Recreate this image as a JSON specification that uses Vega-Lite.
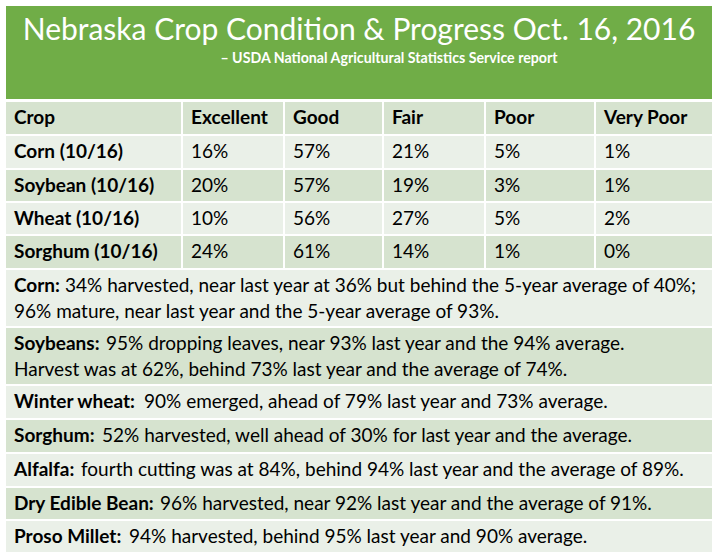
{
  "$schema": "https://vega.github.io/schema/vega-lite/v6.json",
  "width": 720,
  "height": 558,
  "autosize": {"type": "fit", "contains": "padding"},
  "padding": 0,
  "background": "white",
  "view": {"stroke": null},
  "config": {"text": {"font": "Lato", "fontSize": 19, "color": "#000000"}},
  "datasets": {
    "bands": [
      {"from": -2, "to": -1, "shade": "title"},
      {"from": 0, "to": 1, "shade": "dark"},
      {"from": 1, "to": 2, "shade": "light"},
      {"from": 2, "to": 3, "shade": "dark"},
      {"from": 3, "to": 4, "shade": "light"},
      {"from": 4, "to": 5, "shade": "dark"},
      {"from": 5, "to": 6, "shade": "light"},
      {"from": 6, "to": 7, "shade": "dark"},
      {"from": 7, "to": 8, "shade": "light"},
      {"from": 8, "to": 9, "shade": "dark"},
      {"from": 9, "to": 10, "shade": "light"},
      {"from": 10, "to": 11, "shade": "dark"},
      {"from": 11, "to": 12, "shade": "light"}
    ],
    "separators": [{"col": 1}, {"col": 2}, {"col": 3}, {"col": 4}, {"col": 5}],
    "titles": [
      {"kind": "main", "text": "Nebraska Crop Condition & Progress Oct. 16, 2016"},
      {"kind": "sub", "text": "– USDA National Agricultural Statistics Service report"}
    ],
    "headers": [
      {"row": 0, "col": 0, "text": "Crop"},
      {"row": 0, "col": 1, "text": "Excellent"},
      {"row": 0, "col": 2, "text": "Good"},
      {"row": 0, "col": 3, "text": "Fair"},
      {"row": 0, "col": 4, "text": "Poor"},
      {"row": 0, "col": 5, "text": "Very Poor"},
      {"row": 1, "col": 0, "text": "Corn (10/16)"},
      {"row": 2, "col": 0, "text": "Soybean (10/16)"},
      {"row": 3, "col": 0, "text": "Wheat (10/16)"},
      {"row": 4, "col": 0, "text": "Sorghum (10/16)"}
    ],
    "conditions": [
      {"crop": "Corn (10/16)", "row": 1, "condition": "Excellent", "col": 1, "share": 0.16},
      {"crop": "Corn (10/16)", "row": 1, "condition": "Good", "col": 2, "share": 0.57},
      {"crop": "Corn (10/16)", "row": 1, "condition": "Fair", "col": 3, "share": 0.21},
      {"crop": "Corn (10/16)", "row": 1, "condition": "Poor", "col": 4, "share": 0.05},
      {"crop": "Corn (10/16)", "row": 1, "condition": "Very Poor", "col": 5, "share": 0.01},
      {"crop": "Soybean (10/16)", "row": 2, "condition": "Excellent", "col": 1, "share": 0.20},
      {"crop": "Soybean (10/16)", "row": 2, "condition": "Good", "col": 2, "share": 0.57},
      {"crop": "Soybean (10/16)", "row": 2, "condition": "Fair", "col": 3, "share": 0.19},
      {"crop": "Soybean (10/16)", "row": 2, "condition": "Poor", "col": 4, "share": 0.03},
      {"crop": "Soybean (10/16)", "row": 2, "condition": "Very Poor", "col": 5, "share": 0.01},
      {"crop": "Wheat (10/16)", "row": 3, "condition": "Excellent", "col": 1, "share": 0.10},
      {"crop": "Wheat (10/16)", "row": 3, "condition": "Good", "col": 2, "share": 0.56},
      {"crop": "Wheat (10/16)", "row": 3, "condition": "Fair", "col": 3, "share": 0.27},
      {"crop": "Wheat (10/16)", "row": 3, "condition": "Poor", "col": 4, "share": 0.05},
      {"crop": "Wheat (10/16)", "row": 3, "condition": "Very Poor", "col": 5, "share": 0.02},
      {"crop": "Sorghum (10/16)", "row": 4, "condition": "Excellent", "col": 1, "share": 0.24},
      {"crop": "Sorghum (10/16)", "row": 4, "condition": "Good", "col": 2, "share": 0.61},
      {"crop": "Sorghum (10/16)", "row": 4, "condition": "Fair", "col": 3, "share": 0.14},
      {"crop": "Sorghum (10/16)", "row": 4, "condition": "Poor", "col": 4, "share": 0.01},
      {"crop": "Sorghum (10/16)", "row": 4, "condition": "Very Poor", "col": 5, "share": 0.00}
    ],
    "notes": [
      {"row": 5, "label": "Corn:", "text": "34% harvested, near last year at 36% but behind the 5-year average of 40%;", "text2": "96% mature, near last year and the 5-year average of 93%."},
      {"row": 6, "label": "Soybeans:", "text": "95% dropping leaves, near 93% last year and the 94% average.", "text2": "Harvest was at 62%, behind 73% last year and the average of 74%."},
      {"row": 7, "label": "Winter wheat:", "text": "90% emerged, ahead of 79% last year and 73% average.", "text2": ""},
      {"row": 8, "label": "Sorghum:", "text": "52% harvested, well ahead of 30% for last year and the average.", "text2": ""},
      {"row": 9, "label": "Alfalfa:", "text": "fourth cutting was at 84%, behind 94% last year and the average of 89%.", "text2": ""},
      {"row": 10, "label": "Dry Edible Bean:", "text": "96% harvested, near 92% last year and the average of 91%.", "text2": ""},
      {"row": 11, "label": "Proso Millet:", "text": "94% harvested, behind 95% last year and 90% average.", "text2": ""}
    ]
  },
  "encoding": {},
  "layer": [
    {
      "data": {"name": "bands"},
      "mark": {"type": "rect", "stroke": "white", "strokeWidth": 2},
      "encoding": {
        "x": {"datum": 0, "type": "quantitative", "axis": null,
              "scale": {"domain": [0, 1, 2, 3, 4, 5, 6], "range": [5, 182, 284, 383, 485, 595, 713], "zero": false, "nice": false}},
        "x2": {"datum": 6},
        "y": {"field": "from", "type": "quantitative", "axis": null,
              "scale": {"domain": [-2, -1, 0, 1, 2, 3, 4, 5, 6, 7, 8, 9, 10, 11, 12], "range": [5, 100, 101, 135, 169, 202, 235, 269, 327, 385, 419, 453, 487, 520, 553], "zero": false, "nice": false}},
        "y2": {"field": "to"},
        "color": {"field": "shade", "type": "nominal", "legend": null,
                  "scale": {"domain": ["title", "dark", "light"], "range": ["#70AD47", "#D6E3CF", "#EAF0E8"]}}
      }
    },
    {
      "data": {"name": "separators"},
      "mark": {"type": "rule", "stroke": "white", "strokeWidth": 2},
      "encoding": {
        "x": {"field": "col", "type": "quantitative"},
        "y": {"datum": 0},
        "y2": {"datum": 5}
      }
    },
    {
      "data": {"name": "titles"},
      "transform": [{"filter": "datum.kind === 'main'"}],
      "mark": {"type": "text", "color": "white", "fontSize": 30, "align": "center", "baseline": "middle", "dx": -24, "dy": 26},
      "encoding": {"x": {"datum": 3}, "y": {"datum": -2}, "text": {"field": "text"}}
    },
    {
      "data": {"name": "titles"},
      "transform": [{"filter": "datum.kind === 'sub'"}],
      "mark": {"type": "text", "color": "white", "fontSize": 14.2, "fontWeight": "bold", "align": "center", "baseline": "middle", "dx": 6, "dy": 54},
      "encoding": {"x": {"datum": 3}, "y": {"datum": -2}, "text": {"field": "text"}}
    },
    {
      "data": {"name": "headers"},
      "mark": {"type": "text", "fontWeight": "bold", "align": "left", "baseline": "middle", "dx": 9, "dy": 17},
      "encoding": {"x": {"field": "col", "type": "quantitative"}, "y": {"field": "row", "type": "quantitative"}, "text": {"field": "text"}}
    },
    {
      "data": {"name": "conditions"},
      "mark": {"type": "text", "align": "left", "baseline": "middle", "dx": 9, "dy": 17},
      "encoding": {"x": {"field": "col", "type": "quantitative"}, "y": {"field": "row", "type": "quantitative"}, "text": {"field": "share", "type": "quantitative", "format": ".0%"}}
    },
    {
      "data": {"name": "notes"},
      "mark": {"type": "text", "fontWeight": "bold", "align": "left", "baseline": "middle", "dx": 9, "dy": 17},
      "encoding": {"x": {"datum": 0}, "y": {"field": "row", "type": "quantitative"}, "text": {"field": "label"}}
    },
    {
      "data": {"name": "notes"},
      "mark": {"type": "text", "align": "left", "baseline": "middle", "dx": 9, "dy": 43},
      "encoding": {"x": {"datum": 0}, "y": {"field": "row", "type": "quantitative"}, "text": {"field": "text2"}}
    },
    {"data": {"name": "notes"}, "transform": [{"filter": "datum.row === 5"}],
     "mark": {"type": "text", "align": "left", "baseline": "middle", "dx": 60, "dy": 17},
     "encoding": {"x": {"datum": 0}, "y": {"field": "row", "type": "quantitative"}, "text": {"field": "text"}}},
    {"data": {"name": "notes"}, "transform": [{"filter": "datum.row === 6"}],
     "mark": {"type": "text", "align": "left", "baseline": "middle", "dx": 101, "dy": 17},
     "encoding": {"x": {"datum": 0}, "y": {"field": "row", "type": "quantitative"}, "text": {"field": "text"}}},
    {"data": {"name": "notes"}, "transform": [{"filter": "datum.row === 7"}],
     "mark": {"type": "text", "align": "left", "baseline": "middle", "dx": 139, "dy": 17},
     "encoding": {"x": {"datum": 0}, "y": {"field": "row", "type": "quantitative"}, "text": {"field": "text"}}},
    {"data": {"name": "notes"}, "transform": [{"filter": "datum.row === 8"}],
     "mark": {"type": "text", "align": "left", "baseline": "middle", "dx": 97, "dy": 17},
     "encoding": {"x": {"datum": 0}, "y": {"field": "row", "type": "quantitative"}, "text": {"field": "text"}}},
    {"data": {"name": "notes"}, "transform": [{"filter": "datum.row === 9"}],
     "mark": {"type": "text", "align": "left", "baseline": "middle", "dx": 76, "dy": 17},
     "encoding": {"x": {"datum": 0}, "y": {"field": "row", "type": "quantitative"}, "text": {"field": "text"}}},
    {"data": {"name": "notes"}, "transform": [{"filter": "datum.row === 10"}],
     "mark": {"type": "text", "align": "left", "baseline": "middle", "dx": 155, "dy": 17},
     "encoding": {"x": {"datum": 0}, "y": {"field": "row", "type": "quantitative"}, "text": {"field": "text"}}},
    {"data": {"name": "notes"}, "transform": [{"filter": "datum.row === 11"}],
     "mark": {"type": "text", "align": "left", "baseline": "middle", "dx": 124, "dy": 17},
     "encoding": {"x": {"datum": 0}, "y": {"field": "row", "type": "quantitative"}, "text": {"field": "text"}}}
  ]
}
